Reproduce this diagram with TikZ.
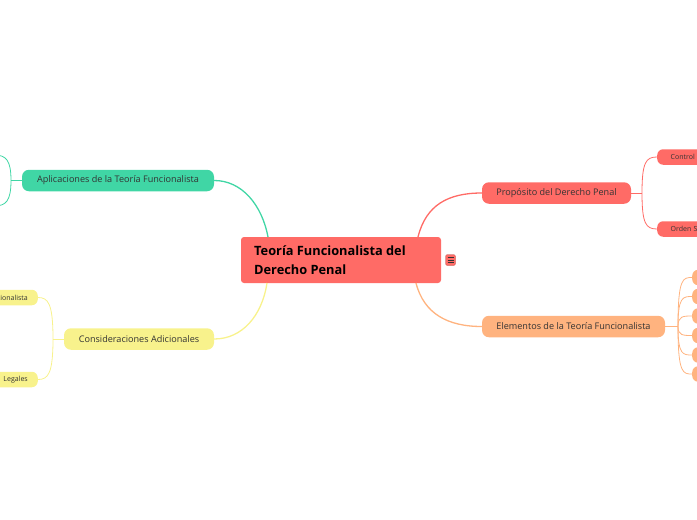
\documentclass[tikz,border=0pt]{standalone}
\usepackage{fontspec}
\setmainfont{Open Sans}
\definecolor{cred}{HTML}{FF6B66}
\definecolor{cora}{HTML}{FFB37F}
\definecolor{cgrn}{HTML}{40D6A5}
\definecolor{cyel}{HTML}{F8F28C}
\definecolor{ctxt}{HTML}{333333}
\tikzset{
  branch/.style={rounded corners=7pt, minimum height=21.5pt, inner xsep=0pt, font=\fontsize{9.1}{11}\selectfont, text=ctxt},
  leaf/.style={rounded corners=6pt, minimum height=15.5pt, inner xsep=0pt, font=\fontsize{7}{8}\selectfont, text=ctxt},
  conn/.style={line width=1.3pt},
  sub/.style={line width=0.8pt},
}
\begin{document}
\begin{tikzpicture}[x=1pt,y=-1pt]
\useasboundingbox (0,0) rectangle (697,520);
\clip (0,0) rectangle (697,520);
% central
\fill[cred, rounded corners=3pt] (241,237) rectangle (441,283);
\node[anchor=west, align=left, font=\fontsize{12.8}{18.5}\bfseries\selectfont, inner sep=0pt] (center) at (254,260) {Teoría Funcionalista del\\Derecho Penal};
\coordinate (cTR) at (418,237);
\coordinate (cBR) at (416,283);
\coordinate (cTL) at (268,237);
\coordinate (cBL) at (267,283);
% icon
\node[draw=cred!70!black, line width=0.3pt, fill=cred, rounded corners=1.5pt, minimum width=10pt, minimum height=11pt, inner sep=0pt] (icon) at (450.5,260) {};
\draw[line width=0.8pt, black!80] (447.5,257.5) -- (453.5,257.5) (447.5,260) -- (453.5,260) (447.5,262.5) -- (453.5,262.5);
% branches
\node[branch, fill=cred, minimum width=149pt] (prop) at (556.5,193) {Propósito del Derecho Penal};
\node[branch, fill=cora, minimum width=183pt] (elem) at (573.5,326.5) {Elementos de la Teoría Funcionalista};
\node[branch, fill=cgrn, minimum width=192pt] (apl) at (118,180.5) {Aplicaciones de la Teoría Funcionalista};
\node[branch, fill=cyel, minimum width=150pt] (cons) at (139,339) {Consideraciones Adicionales};
\draw[conn, cred] (cTR) .. controls (426,205) and (448,193) .. (prop.west);
\draw[conn, cora] (cBR) .. controls (424,314) and (448,326.5) .. (elem.west);
\draw[conn, cgrn] (cTL) .. controls (262,205) and (242,180.5) .. (apl.east);
\draw[conn, cyel] (cBL) .. controls (262,316) and (242,339) .. (cons.east);
% red children
\node[leaf, fill=cred, minimum width=70pt, anchor=west, text width=64pt, align=left] (ctrl) at (657,157) {\hspace*{10.5pt}Control Social};
\node[leaf, fill=cred, minimum width=70pt, anchor=west, text width=64pt, align=left] (orden) at (657,229) {\hspace*{10.5pt}Orden Social};
\coordinate (pb) at (642,193);
\draw[sub, cred] (prop.east) -- (pb);
\draw[sub, cred] (pb) .. controls (642,162) and (646,157) .. (ctrl.west);
\draw[sub, cred] (pb) .. controls (642,224) and (646,229) .. (orden.west);
% orange children
\coordinate (eb) at (678,326.5);
\draw[sub, cora] (elem.east) -- (eb);
\foreach \yy/\nm in {277.5/e1,296.5/e2,316/e3,335.5/e4,355/e5,374/e6}{
  \node[leaf, fill=cora, minimum width=30pt, anchor=west] (\nm) at (692,\yy) {};
  \draw[sub, cora] (eb) .. controls (678,\yy) and (683,\yy) .. (\nm.west);
}
% green children
\coordinate (gb) at (11,180.5);
\coordinate (g1) at (-6,155);
\coordinate (g2) at (-6,206);
\draw[sub, cgrn] (apl.west) -- (gb);
\draw[sub, cgrn] (gb) .. controls (11,160) and (6,155) .. (g1);
\draw[sub, cgrn] (gb) .. controls (11,201) and (6,206) .. (g2);
% yellow children
\node[leaf, fill=cyel, minimum width=80pt, anchor=east, text width=80pt, align=right] (y1) at (38,297.5) {Funcionalista\hspace*{10pt}};
\node[leaf, fill=cyel, minimum width=80pt, anchor=east, text width=80pt, align=right] (y2) at (38,379.5) {Legales\hspace*{10pt}};
\coordinate (yb) at (53,339);
\draw[sub, cyel] (cons.west) -- (yb);
\draw[sub, cyel] (yb) .. controls (53,303) and (48,297.5) .. (y1.east);
\draw[sub, cyel] (yb) .. controls (53,374) and (48,379.5) .. (y2.east);
\end{tikzpicture}
\end{document}
